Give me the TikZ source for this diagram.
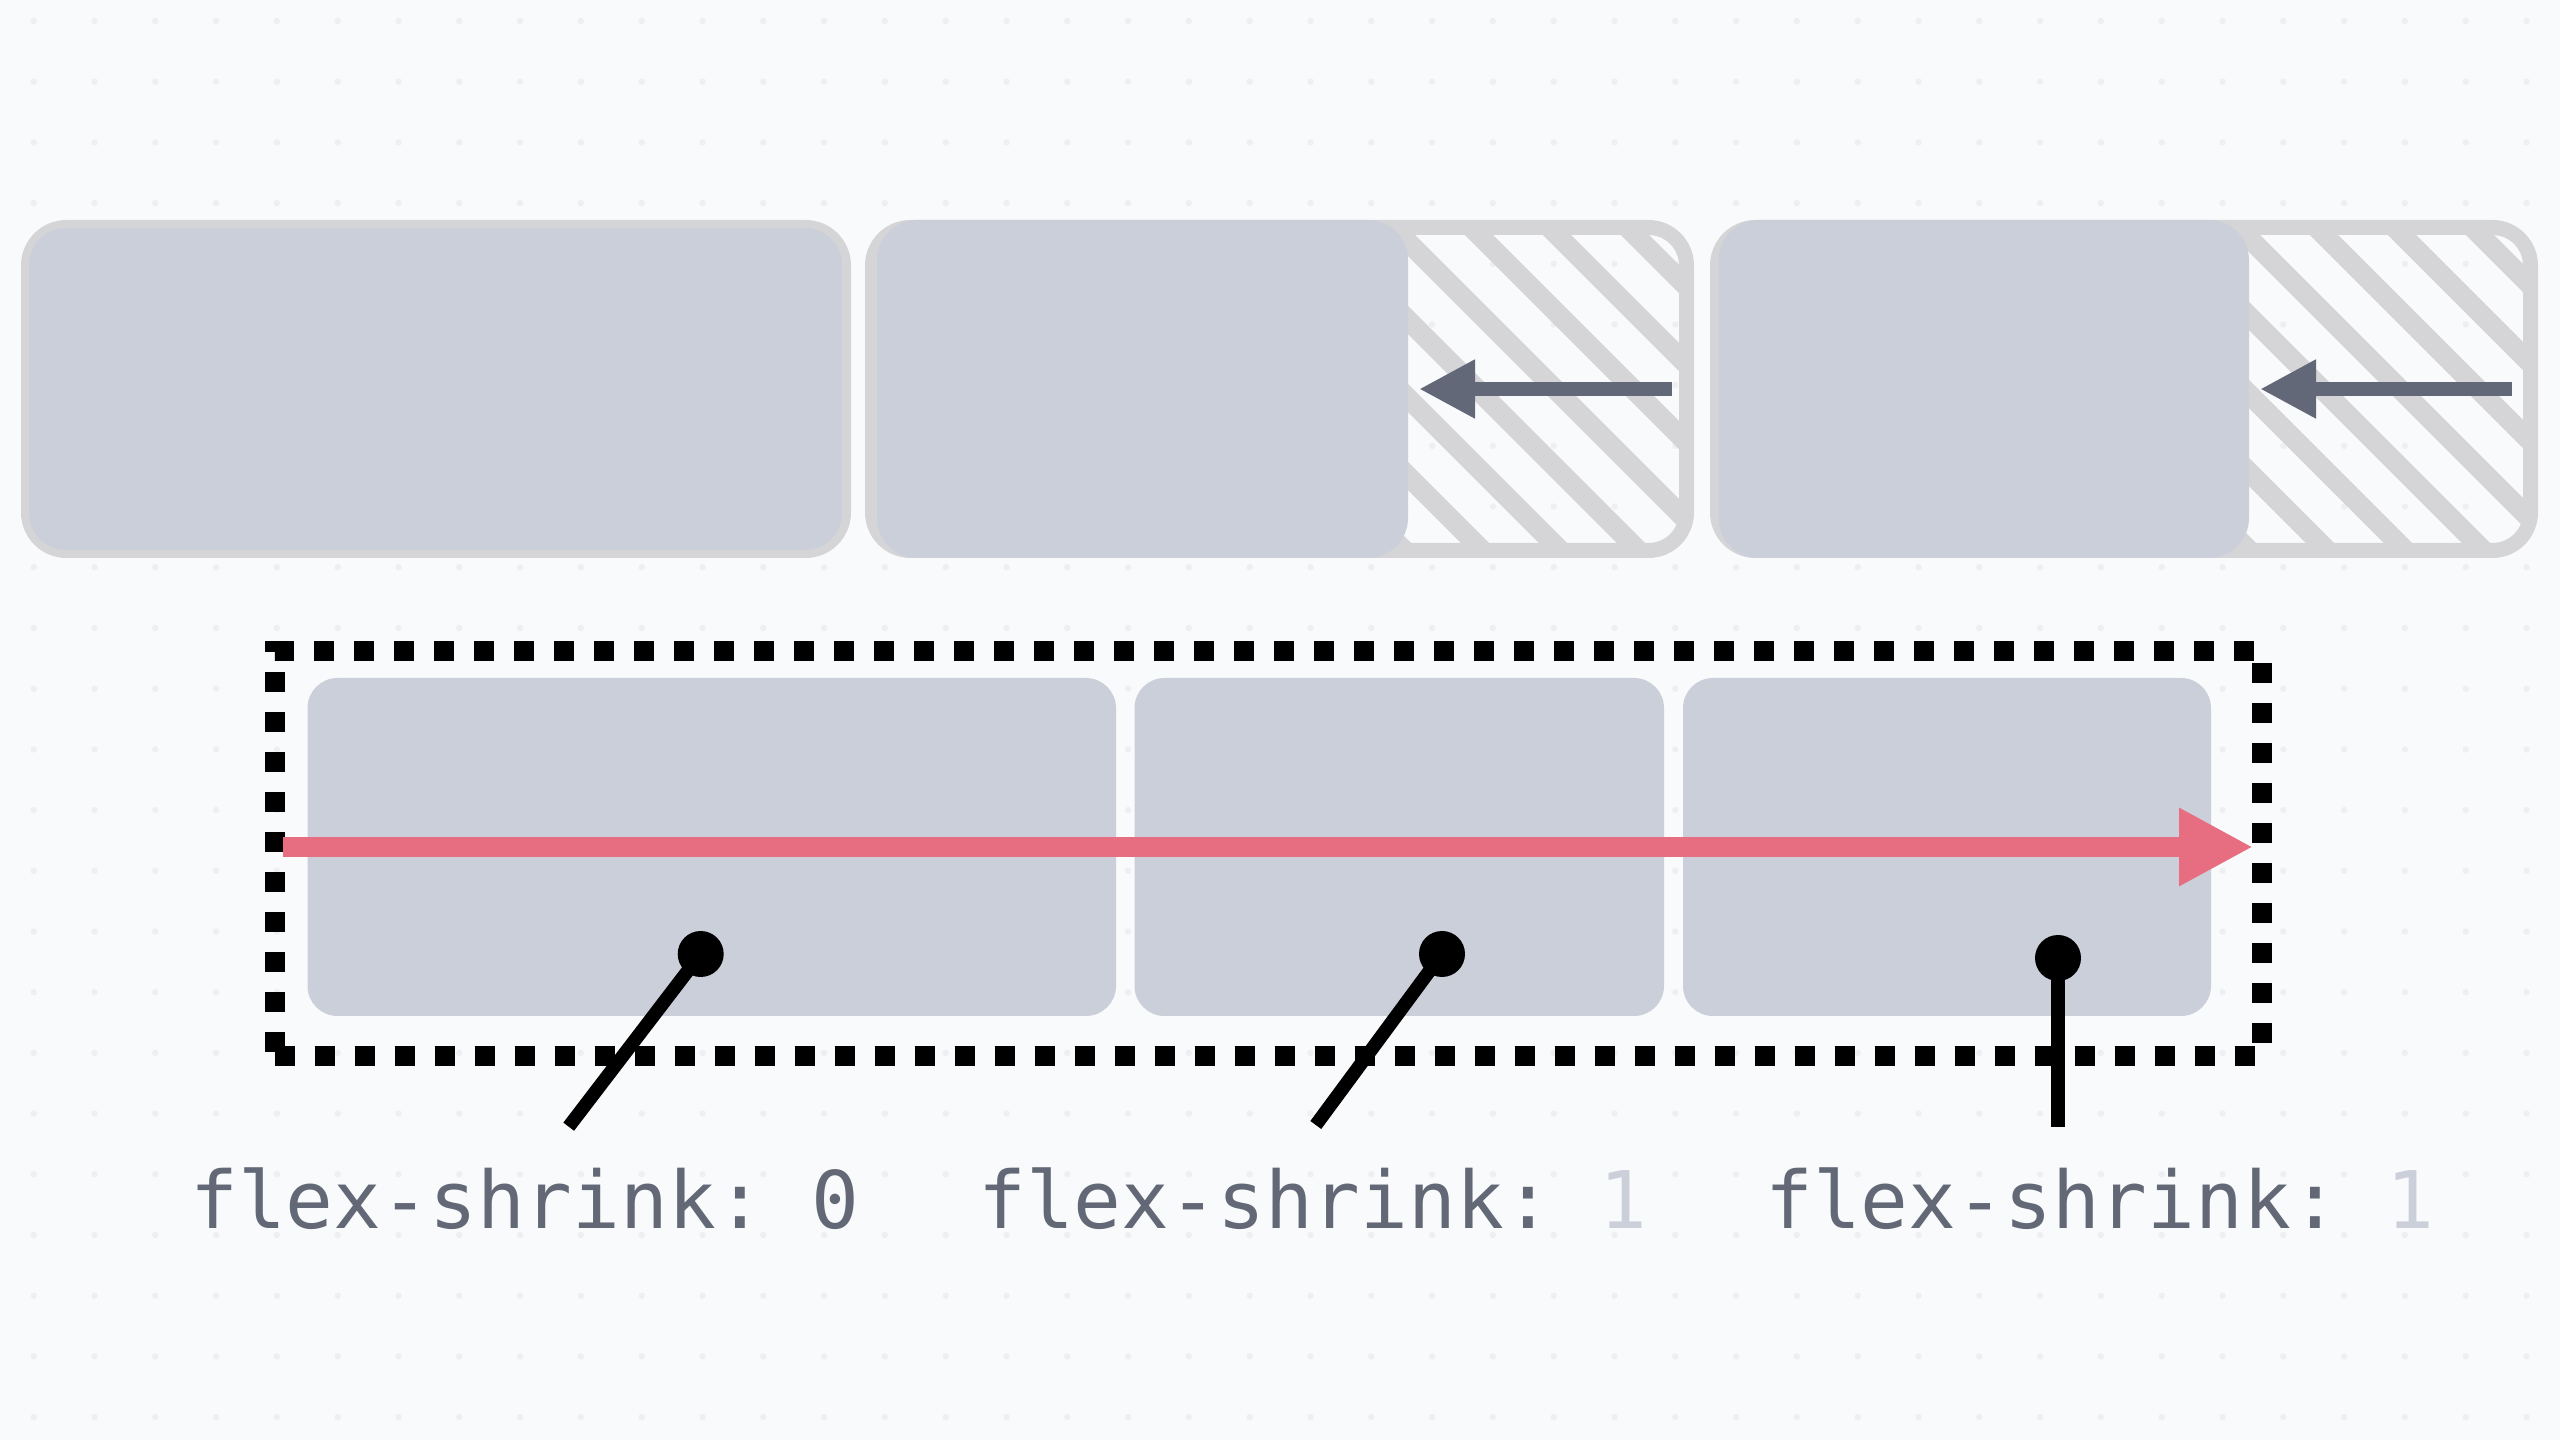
\documentclass[tikz,border=0pt]{standalone}
\usepackage{fontspec}
\setmonofont{DejaVu Sans Mono}
\usepackage{tikz}
\usetikzlibrary{arrows.meta}
\usepackage{xcolor}

\definecolor{bgPaper}{HTML}{F9FAFB}
\definecolor{dotGray}{HTML}{EDEFF2}
\definecolor{borderGray}{HTML}{D5D5D8}
\definecolor{itemGray}{HTML}{CBCFD9}
\definecolor{arrowGray}{HTML}{626877}
\definecolor{axisPink}{HTML}{E76E81}
\definecolor{labelGray}{HTML}{636876}
\definecolor{numGray}{HTML}{CBCFD9}

\tikzset{
  outerbox/.style={draw=borderGray, line width=1.5mm, rounded corners=3.8mm, inner sep=0pt, outer sep=0pt},
  itembox/.style={fill=itemGray, rounded corners=3mm, inner sep=0pt, outer sep=0pt},
  pindot/.style={circle, fill=black, minimum size=4.6mm, inner sep=0pt},
  stick/.style={draw=black, line width=1.35mm},
  lbl/.style={font=\ttfamily\fontsize{22.6pt}{27pt}\selectfont, text=labelGray, anchor=base, inner sep=0pt},
  shrinkarrow/.style={draw=arrowGray, line width=1.4mm, -{Triangle[length=5.6mm,width=5.5mm]}},
  axisarrow/.style={draw=axisPink, line width=2mm, -{Triangle[length=7.4mm,width=7.3mm]}},
}

\begin{document}
\begin{tikzpicture}[x=0.1mm, y=-0.1mm]
			\fill[bgPaper] (0,0) rectangle (2560,1440);
			\useasboundingbox (0,0) rectangle (2560,1440);
			\foreach \i in {0,...,41}
				\foreach \j in {0,...,23}
					\fill[dotGray] ({33.7+60.8*\i},{21+60.7*\j}) circle (3.2);

			% top row: before shrinking
			\node[outerbox, minimum width=81.5mm, minimum height=32.3mm] (wrapA) at (436,389) {};
			\node[outerbox, minimum width=81.4mm, minimum height=32.3mm] (wrapB) at (1279.5,389) {};
			\node[outerbox, minimum width=81.3mm, minimum height=32.3mm] (wrapC) at (2124,389) {};
			\foreach \hl/\hr/\hc in {880/1679/1244, 1725/2523/2089} {
				\begin{scope}
					\clip[rounded corners=3mm] (\hl,235) rectangle (\hr,543);
					\foreach \k in {-12,...,3}
						\draw[borderGray, line width=2mm] ({\hc+78*\k+150},150) -- ({\hc+78*\k+650},650);
				\end{scope}
			}
			\node[itembox, rounded corners=3.7mm, minimum width=81.3mm, minimum height=32.2mm] (itemA0) at (435.5,389) {};
			\node[itembox, rounded corners=4mm, minimum width=53.1mm, minimum height=33.8mm] (itemB0) at (1142.5,389) {};
			\node[itembox, rounded corners=4mm, minimum width=53.05mm, minimum height=33.8mm] (itemC0) at (1983.75,389) {};
			\coordinate (pullB) at (1672,389);
			\coordinate (pullC) at (2512,389);
			\draw[shrinkarrow] (pullB) -- ([xshift=1.1mm]itemB0.east);
			\draw[shrinkarrow] (pullC) -- ([xshift=1.1mm]itemC0.east);

			% bottom row: flex container
			\node[draw=black, line width=2mm, dash pattern=on 2mm off 2mm, inner sep=0pt, outer sep=0pt,
				minimum width=198.7mm, minimum height=40.5mm] (flexbox) at (1268,853.5) {};
			\node[itembox, minimum width=80.85mm, minimum height=33.8mm] (itemA) at (711.75,847) {};
			\node[itembox, minimum width=52.95mm, minimum height=33.8mm] (itemB) at (1399.25,847) {};
			\node[itembox, minimum width=52.8mm, minimum height=33.8mm] (itemC) at (1947,847) {};
			\coordinate (mainstart) at (283,847);
			\coordinate (mainend) at (2253,847);
			\draw[axisarrow] (mainstart) -- (mainend);

			\node[pindot] (dotA) at (700.7,954) {};
			\node[pindot] (dotB) at (1442,954) {};
			\node[pindot] (dotC) at (2058,958) {};
			\coordinate (tailA) at (568.7,1126.7);
			\coordinate (tailB) at (1315.8,1125);
			\coordinate (tailC) at (2058,1127);
			\draw[stick] (dotA.center) -- (tailA);
			\draw[stick] (dotB.center) -- (tailB);
			\draw[stick] (dotC.center) -- (tailC);

			\node[lbl] (lblA) at (525,1228) {flex-shrink: 0};
			\node[lbl] (lblB) at (1313,1228) {flex-shrink: \textcolor{numGray}{1}};
			\node[lbl] (lblC) at (2100,1228) {flex-shrink: \textcolor{numGray}{1}};
		\end{tikzpicture}
\end{document}
